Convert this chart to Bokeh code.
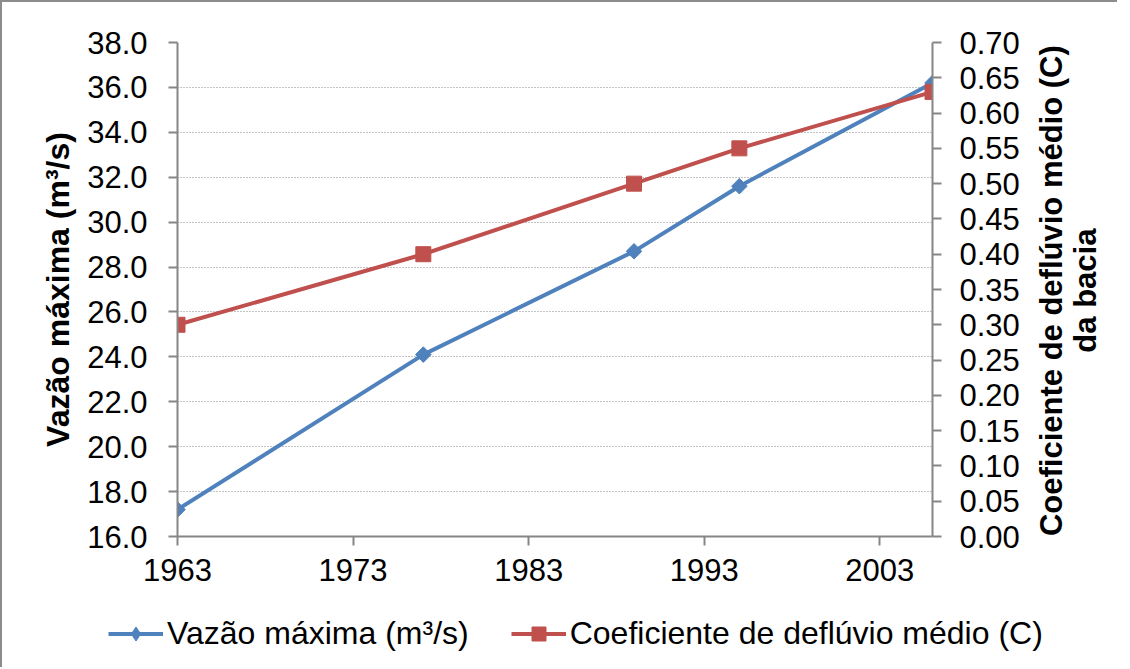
import math
from bokeh.plotting import figure
from bokeh.layouts import column, row
from bokeh.models import (Range1d, LinearAxis, FixedTicker, NumeralTickFormatter,
                          Legend, LegendItem)
from bokeh.core.properties import value
from bokeh.embed import file_html
from bokeh.resources import INLINE

# ---- data ----
years = [1963, 1977, 1989, 1995, 2006]
vazao = [17.2, 24.1, 28.7, 31.6, 36.2]
coef = [0.30, 0.40, 0.50, 0.55, 0.63]
x_ticks = [1963, 1973, 1983, 1993, 2003]
left_ticks = [16, 18, 20, 22, 24, 26, 28, 30, 32, 34, 36, 38]
right_ticks = [0.0, 0.05, 0.10, 0.15, 0.20, 0.25, 0.30, 0.35, 0.40, 0.45, 0.50, 0.55, 0.60, 0.65, 0.70]
label_vazao = "Vazão máxima (m³/s)"
label_coef = "Coeficiente de deflúvio médio (C)"
right_title = ["Coeficiente de deflúvio médio (C)", "da bacia"]

BLUE = "#4F81BD"
RED = "#C0504D"
GREY = "#868686"
FONT = "Liberation Sans"
FS = "31px"

MAIN_W, MAIN_H = 1025, 604
SIDE_W = 90
LEG_H = 61

# ---------------- main chart ----------------
p = figure(frame_width=755, frame_height=494, x_range=Range1d(1963, 2006), y_range=Range1d(16, 38),
           output_backend="svg", toolbar_location=None,
           min_border_left=175, min_border_right=95, min_border_top=40, min_border_bottom=70)
p.outline_line_color = None
p.xgrid.visible = False
p.ygrid.grid_line_color = GREY
p.ygrid.grid_line_dash = "1 2"
p.ygrid.grid_line_width = 1

p.extra_y_ranges = {"c": Range1d(0, 0.7)}
raxis = LinearAxis(y_range_name="c", ticker=FixedTicker(ticks=right_ticks),
                   formatter=NumeralTickFormatter(format="0.00"))
p.add_layout(raxis, "right")

p.xaxis.ticker = FixedTicker(ticks=x_ticks)
p.xaxis.formatter = NumeralTickFormatter(format="0")
p.yaxis[0].ticker = FixedTicker(ticks=left_ticks)
p.yaxis[0].formatter = NumeralTickFormatter(format="0.0")

for ax in [p.xaxis[0], p.yaxis[0], raxis]:
    ax.axis_line_color = GREY
    ax.axis_line_width = 2
    ax.major_tick_line_color = GREY
    ax.major_tick_line_width = 2
    ax.major_tick_out = 9
    ax.major_tick_in = 0
    ax.minor_tick_line_color = None
    ax.major_label_text_font = FONT
    ax.major_label_text_font_size = FS
    ax.major_label_text_color = "black"
    ax.major_label_standoff = 18
p.xaxis[0].major_label_standoff = 13
p.yaxis[0].major_label_standoff = 21

p.yaxis[0].axis_label = label_vazao
p.yaxis[0].axis_label_text_font = FONT
p.yaxis[0].axis_label_text_font_size = "32px"
p.yaxis[0].axis_label_text_font_style = "bold"
p.yaxis[0].axis_label_text_color = "black"
p.yaxis[0].axis_label_standoff = 8

p.line(years, vazao, line_color=BLUE, line_width=4)
p.scatter(years, vazao, marker="square", angle=math.pi / 4, size=11,
          fill_color=BLUE, line_color=BLUE)
p.line(years, coef, line_color=RED, line_width=4, y_range_name="c")
p.scatter(years, coef, marker="square", size=15, fill_color=RED, line_color=RED,
          y_range_name="c")

# ---------------- right axis title (frame aligned with main chart) ----------------
pr = figure(width=SIDE_W, height=MAIN_H, x_range=Range1d(0, SIDE_W), y_range=Range1d(16, 38),
            output_backend="svg", toolbar_location=None, min_border=0,
            x_axis_location=None, y_axis_location=None)
pr.outline_line_color = None
pr.grid.visible = False
pr.text(x=[24, 58], y=[26.95, 26.95], text=right_title, angle=math.pi / 2,
        text_align="center", text_baseline="middle", text_font=value(FONT),
        text_font_size="31px", text_font_style="bold", text_color="black")

# ---------------- legend strip ----------------
TOTAL_W = MAIN_W + SIDE_W
pl = figure(width=TOTAL_W, height=LEG_H, x_range=Range1d(0, TOTAL_W), y_range=Range1d(0, LEG_H),
            output_backend="svg", toolbar_location=None, min_border=0,
            x_axis_location=None, y_axis_location=None)
pl.outline_line_color = None
pl.grid.visible = False
# legend renderers: same series, lying outside this strip's visible range
l1 = pl.line(years, vazao, line_color=BLUE, line_width=4)
m1 = pl.scatter(years, vazao, marker="diamond", size=14, fill_color=BLUE, line_color=BLUE)
l2 = pl.line(years, coef, line_color=RED, line_width=4)
m2 = pl.scatter(years, coef, marker="square", size=15, fill_color=RED, line_color=RED)

legend = Legend(items=[LegendItem(label=label_vazao, renderers=[l1, m1]),
                       LegendItem(label=label_coef, renderers=[l2, m2])],
                orientation="horizontal", location=(106, 15),
                glyph_width=55, glyph_height=35, label_standoff=4, spacing=42,
                label_text_font=FONT, label_text_font_size="32px", label_text_color="black",
                border_line_color=None, background_fill_alpha=0, padding=0, margin=0)
pl.add_layout(legend)

layout = column(row(p, pr), pl,
                styles={"border-top": "2px solid #8c8c8c", "border-left": "2px solid #8c8c8c"})

open("out.html", "w").write(file_html(layout, INLINE))
